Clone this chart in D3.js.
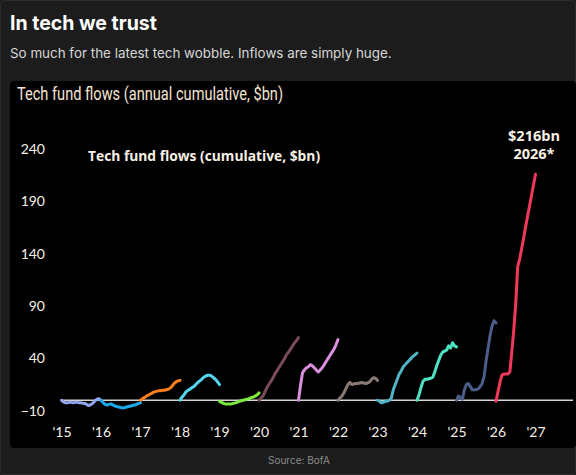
<!DOCTYPE html>
<html>
<head>
<meta charset="utf-8">
<script src="https://cdn.jsdelivr.net/npm/d3@7"></script>
<style>
  body { margin: 0; background: #1c1c1c; }
  svg { display: block; }
</style>
</head>
<body>
<script>
// years shown, one cumulative line per calendar year
let years = [2015, 2016, 2017, 2018, 2019, 2020, 2021, 2022, 2023, 2024, 2025, 2026];

// cumulative flows ($bn), sampled every 1/20th of the year
let flows2015 = [0, -1.5, -2.5, -2.5, -2, -2, -2.5, -2, -2, -2.5, -2.5, -3, -3, -4.5, -5, -4, -2.5, -0.5, 1, 1.5, 0];
let flows2016 = [0, -2, -4, -4.5, -4, -3.5, -4.5, -5.5, -6, -6.5, -7, -7.5, -7, -6.5, -6, -5.5, -5, -4.5, -4, -3, -2.5];
let flows2017 = [0, 1.5, 2.5, 4, 5, 6, 7, 8, 8.5, 9, 9, 9.5, 9.5, 10, 10.5, 11.5, 13.5, 16, 17.5, 18.5, 19];
let flows2018 = [0, 3, 5, 8, 9.5, 10.5, 12, 13, 15, 17, 18.5, 20, 22, 23, 24, 24, 23, 21.5, 20, 17.5, 15];
let flows2019 = [-1, -2, -3, -3.5, -3.5, -3.5, -3.5, -3, -2.5, -2, -1, -0.5, 0, 0.5, 1, 1.5, 2.5, 3, 4, 5, 7];
let flows2020 = [0, 2, 4, 8, 12, 15, 18, 21, 25, 28, 31, 34, 37, 40, 44, 46, 49, 52, 55, 57, 60];
let flows2021 = [0, 14, 26, 29, 31, 32, 34, 33, 31, 29, 27, 29, 31, 34, 37, 40, 43, 46, 49, 53, 58];
let flows2022 = [0, 2, 4, 7, 11, 15, 17, 15, 15.5, 16, 16, 16.5, 17, 16.5, 16, 16.5, 17.5, 20, 21.5, 21, 19];
let flows2023 = [0, -1, -2.5, -2, -1, -1, 0, 2, 10, 15, 20, 25, 28, 32, 34, 36, 38, 40, 42, 43.5, 45];
let flows2024 = [0, 5, 12, 18, 20, 20, 20.5, 21, 22, 27, 33, 38, 43, 46, 47, 48, 52, 50, 55, 52, 51];
let flows2025 = [0, 4, 3, 1, 10, 15, 16, 13, 10, 10, 10, 11, 13, 16, 23, 38, 50, 62, 71, 76, 74];
let flows2026 = [-1, 8, 17, 24, 25, 25, 25, 27, 46, 67, 93, 128, 135, 145, 155, 166, 176, 186, 196, 206, 216];

let allFlows = [flows2015, flows2016, flows2017, flows2018, flows2019, flows2020,
                flows2021, flows2022, flows2023, flows2024, flows2025, flows2026];

let colors = ['#8fa5ef', '#1ba9ea', '#ff7f1c', '#55d6ef', '#7cec3e', '#7a4a5d',
              '#da8fe0', '#8a7a74', '#50b4c6', '#4ee3c3', '#4b5d89', '#f0385b'];

let yTicks = [-10, 40, 90, 140, 190, 240];
let xTicks = [2015, 2016, 2017, 2018, 2019, 2020, 2021, 2022, 2023, 2024, 2025, 2026, 2027];

let width = 576, height = 475;

let svg = d3.select('body')
  .append('svg')
  .attr('width', width)
  .attr('height', height);

svg.append('rect')
  .attr('x', 0.5).attr('y', 0.5)
  .attr('width', width - 1).attr('height', height - 1)
  .attr('rx', 4)
  .attr('fill', '#1c1c1c')
  .attr('stroke', '#2c2c2c');

// header
svg.append('text')
  .attr('x', 10).attr('y', 30)
  .attr('font-family', 'Inter, "Open Sans", sans-serif')
  .attr('font-weight', 700)
  .attr('font-size', 19.5)
  .attr('fill', '#ffffff')
  .text('In tech we trust');

svg.append('text')
  .attr('x', 10).attr('y', 58)
  .attr('font-family', 'Inter, "Open Sans", sans-serif')
  .attr('font-size', 13.4)
  .attr('fill', '#d8d8d8')
  .text('So much for the latest tech wobble. Inflows are simply huge.');

// black chart panel
svg.append('rect')
  .attr('x', 10).attr('y', 81)
  .attr('width', width - 10).attr('height', 367)
  .attr('rx', 4)
  .attr('fill', '#000000');

svg.append('text')
  .attr('x', 17).attr('y', 100)
  .attr('font-family', '"Liberation Sans Narrow", "Roboto", sans-serif')
  .attr('font-size', 18)
  .attr('fill', '#f4e4d0')
  .attr('textLength', 266)
  .attr('lengthAdjust', 'spacingAndGlyphs')
  .text('Tech fund flows (annual cumulative, $bn)');

let x = d3.scaleLinear()
  .domain([2015, 2027])
  .range([61.5, 535.5]);

let y = d3.scaleLinear()
  .domain([-10, 240])
  .range([410.7, 149.2]);

// zero line
svg.append('line')
  .attr('x1', x(2015) - 1).attr('x2', x(2027.95))
  .attr('y1', y(0)).attr('y2', y(0))
  .attr('stroke', '#d4d4d4')
  .attr('stroke-width', 1.5);

let yAxis = svg.append('g')
  .attr('transform', 'translate(48,0)')
  .call(d3.axisLeft(y).tickValues(yTicks).tickSize(0).tickPadding(3));

let xAxis = svg.append('g')
  .attr('transform', 'translate(0,420)')
  .call(d3.axisBottom(x).tickValues(xTicks).tickSize(0).tickPadding(7)
    .tickFormat(function(d) { return "'" + String(d).slice(2); }));

[yAxis, xAxis].forEach(function(g) {
  g.select('.domain').remove();
  g.selectAll('text')
    .attr('font-family', 'Lato, "Open Sans", sans-serif')
    .attr('font-size', 14)
    .attr('fill', '#f6efe4');
});

let line = d3.line()
  .x(function(d) { return x(d.t); })
  .y(function(d) { return y(d.v); });

allFlows.forEach(function(vals, i) {
  let pts = vals.map(function(v, j) {
    return { t: years[i] + j / (vals.length - 1), v: v };
  });
  svg.append('path')
    .datum(pts)
    .attr('d', line)
    .attr('fill', 'none')
    .attr('stroke', colors[i])
    .attr('stroke-width', 3)
    .attr('stroke-linejoin', 'round')
    .attr('stroke-linecap', 'round');
});

svg.append('text')
  .attr('x', 88).attr('y', 161)
  .attr('font-family', '"Open Sans", Lato, sans-serif')
  .attr('font-weight', 700)
  .attr('font-size', 13.8)
  .attr('fill', '#f8f0e4')
  .text('Tech fund flows (cumulative, $bn)');

svg.append('text')
  .attr('x', 534).attr('y', 141)
  .attr('text-anchor', 'middle')
  .attr('font-family', '"Open Sans", Lato, sans-serif')
  .attr('font-weight', 700)
  .attr('font-size', 14.5)
  .attr('fill', '#f8f0e4')
  .text('$216bn');

svg.append('text')
  .attr('x', 534).attr('y', 159)
  .attr('text-anchor', 'middle')
  .attr('font-family', '"Open Sans", Lato, sans-serif')
  .attr('font-weight', 700)
  .attr('font-size', 14.5)
  .attr('fill', '#f8f0e4')
  .text('2026*');

svg.append('text')
  .attr('x', 268).attr('y', 464)
  .attr('font-family', 'Inter, "Open Sans", sans-serif')
  .attr('font-size', 10)
  .attr('fill', '#8c8c8c')
  .text('Source: BofA');
</script>
</body>
</html>
